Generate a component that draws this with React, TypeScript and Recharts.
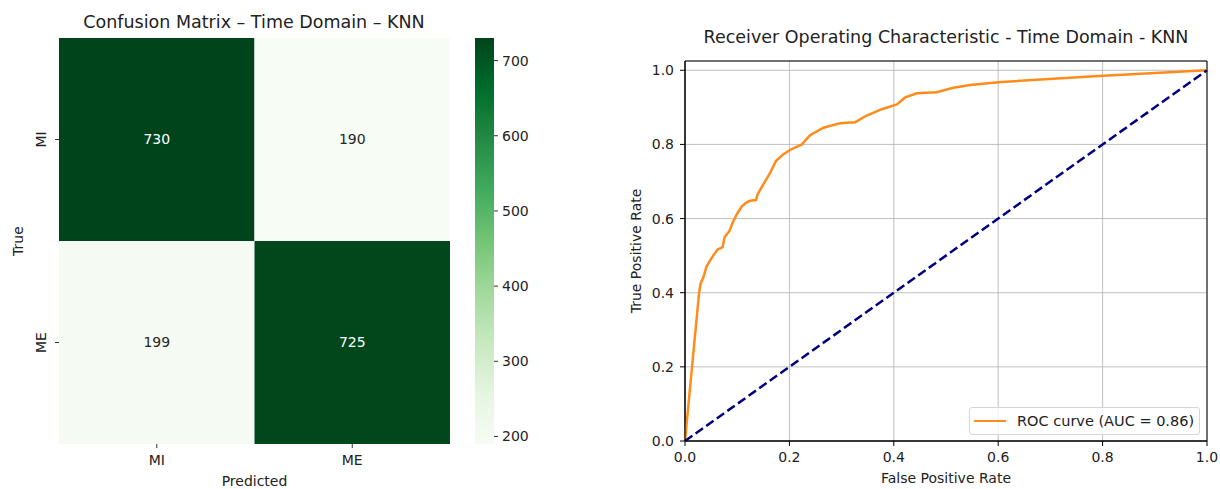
import React from "react";
import {
  ComposedChart,
  XAxis,
  YAxis,
  Line,
  ReferenceArea,
  CartesianGrid,
} from "recharts";

// confusion matrix
const classes = ["MI", "ME"];
const matrix = [
  [730, 190],
  [199, 725],
];
const cbTicks = [200, 300, 400, 500, 600, 700];
const vmin = 190;
const vmax = 730;

// ROC curve
const fpr = [
  0, 0.027, 0.03, 0.036, 0.041, 0.048, 0.055, 0.062, 0.072, 0.076, 0.085, 0.091,
  0.099, 0.109, 0.118, 0.125, 0.136, 0.139, 0.15, 0.163, 0.174, 0.188, 0.201,
  0.224, 0.239, 0.265, 0.297, 0.326, 0.348, 0.377, 0.406, 0.421, 0.444, 0.482,
  0.514, 0.546, 0.6, 0.801, 1.0,
];
const tpr = [
  0, 0.4, 0.425, 0.445, 0.47, 0.487, 0.502, 0.516, 0.523, 0.55, 0.566, 0.588,
  0.611, 0.633, 0.644, 0.648, 0.65, 0.665, 0.692, 0.723, 0.755, 0.773, 0.785,
  0.8, 0.824, 0.845, 0.857, 0.86, 0.878, 0.895, 0.908, 0.926, 0.938, 0.941,
  0.953, 0.96, 0.968, 0.985, 1.0,
];
const rocTicks = [0, 0.2, 0.4, 0.6, 0.8, 1.0];
const aucLabel = "ROC curve (AUC = 0.86)";

const GREENS = ["#f7fcf5", "#e5f5e0", "#c7e9c0", "#a1d99b", "#74c476", "#41ab5d", "#238b45", "#006d2c", "#00441b"];
const FONT = "'DejaVu Sans', sans-serif";
const TXT = "#222";
const FS = 14;

function hex(c: string) {
  return [1, 3, 5].map((i) => parseInt(c.slice(i, i + 2), 16));
}
function greens(v: number) {
  const t = Math.max(0, Math.min(1, (v - vmin) / (vmax - vmin))) * (GREENS.length - 1);
  const i = Math.min(Math.floor(t), GREENS.length - 2);
  const f = t - i;
  const a = hex(GREENS[i]);
  const b = hex(GREENS[i + 1]);
  const m = a.map((x, k) => Math.round(x + (b[k] - x) * f));
  return `rgb(${m.join(",")})`;
}

const cells = matrix.flatMap((row, r) =>
  row.map((v, c) => ({ x: c + 0.5, y: 1.5 - r, v, r, c }))
);
const rocData = fpr.map((x, i) => ({ fpr: x, tpr: tpr[i] }));
const chanceData = [
  { fpr: 0, chance: 0 },
  { fpr: 1, chance: 1 },
];

const RotTick = (props: any) => {
  const { x, y, payload } = props;
  return (
    <text
      x={x}
      y={y}
      transform={`rotate(-90 ${x} ${y})`}
      textAnchor="middle"
      fontSize={FS}
      fill={TXT}
      fontFamily={FONT}
    >
      {classes[1 - Math.floor(payload.value)]}
    </text>
  );
};

const titleStyle: React.CSSProperties = {
  position: "absolute",
  fontSize: 17.5,
  color: TXT,
  textAlign: "center",
  whiteSpace: "nowrap",
  transform: "translate(-50%, -50%)",
};

export default function App() {
  const tickFont = { fontSize: FS, fill: TXT, fontFamily: FONT };
  return (
    <div
      style={{
        position: "absolute",
        left: 0,
        top: 0,
        width: 1220,
        height: 489,
        background: "#fff",
        fontFamily: FONT,
        overflow: "hidden",
      }}
    >
      {/* heatmap */}
      <div style={{ position: "absolute", left: 0, top: 0 }}>
        <ComposedChart width={460} height={489} data={cells} margin={{ top: 38, right: 10, bottom: 15, left: 10 }}>
          <XAxis
            type="number"
            dataKey="x"
            domain={[0, 2]}
            ticks={[0.5, 1.5]}
            tickFormatter={(v) => classes[Math.floor(v)]}
            axisLine={false}
            tickSize={4}
            tickMargin={7}
            tick={tickFont}
            tickLine={{ stroke: "#333" }}
            height={30}
            label={{ value: "Predicted", position: "insideBottom", offset: -12, fontSize: FS, fill: TXT }}
          />
          <YAxis
            type="number"
            dataKey="y"
            domain={[0, 2]}
            ticks={[0.5, 1.5]}
            axisLine={false}
            tickSize={4}
            tickMargin={9}
            tick={<RotTick />}
            tickLine={{ stroke: "#333" }}
            width={49}
            label={{ value: "True", angle: -90, position: "insideLeft", offset: 8, fontSize: FS, fill: TXT, style: { textAnchor: "middle" } }}
          />
          {cells.map((d) => (
            <ReferenceArea
              key={`${d.r}-${d.c}`}
              x1={d.c}
              x2={d.c + 1}
              y1={1 - d.r}
              y2={2 - d.r}
              fill={greens(d.v)}
              fillOpacity={1}
              stroke="none"
              label={{
                value: String(d.v),
                position: "center",
                fill: (d.v - vmin) / (vmax - vmin) > 0.5 ? "#ffffff" : "#262626",
                fontSize: FS,
              }}
            />
          ))}
        </ComposedChart>
      </div>
      <div style={{ ...titleStyle, left: 254, top: 22 }}>Confusion Matrix – Time Domain – KNN</div>

      {/* colorbar */}
      <div style={{ position: "absolute", left: 440, top: 0 }}>
        <ComposedChart width={120} height={489} data={cbTicks.map((t) => ({ x: 0.5, v: t }))} margin={{ top: 38, right: 16, bottom: 45, left: 35 }}>
          <defs>
            <linearGradient id="cbGreens" x1="0" y1="1" x2="0" y2="0">
              {GREENS.map((c, i) => (
                <stop key={c} offset={i / (GREENS.length - 1)} stopColor={c} />
              ))}
            </linearGradient>
          </defs>
          <XAxis type="number" dataKey="x" domain={[0, 1]} hide />
          <YAxis
            type="number"
            dataKey="v"
            orientation="right"
            domain={[vmin, vmax]}
            ticks={cbTicks}
            axisLine={false}
            tickSize={4}
            tickMargin={4}
            tick={tickFont}
            tickLine={{ stroke: "#333" }}
            width={50}
          />
          <ReferenceArea x1={0} x2={1} y1={vmin} y2={vmax} fill="url(#cbGreens)" fillOpacity={1} stroke="none" />
        </ComposedChart>
      </div>

      {/* ROC */}
      <div style={{ position: "absolute", left: 610, top: 0 }}>
        <ComposedChart width={610} height={489} margin={{ top: 61, right: 13, bottom: 13, left: 30 }}>
          <CartesianGrid stroke="#b0b0b0" strokeWidth={0.8} />
          <XAxis
            type="number"
            dataKey="fpr"
            domain={[0, 1]}
            ticks={rocTicks}
            tickFormatter={(v) => v.toFixed(1)}
            tickSize={5}
            tickMargin={6}
            tick={tickFont}
            axisLine={{ stroke: "#000" }}
            tickLine={{ stroke: "#000" }}
            height={35}
            label={{ value: "False Positive Rate", position: "insideBottom", offset: -7, fontSize: FS, fill: TXT }}
          />
          <YAxis
            type="number"
            domain={[0, 1.025]}
            ticks={rocTicks}
            tickFormatter={(v) => v.toFixed(1)}
            tickSize={5}
            tickMargin={6}
            tick={tickFont}
            axisLine={{ stroke: "#000" }}
            tickLine={{ stroke: "#000" }}
            width={45}
            label={{ value: "True Positive Rate", angle: -90, position: "insideLeft", offset: -4, fontSize: FS, fill: TXT, style: { textAnchor: "middle" } }}
          />
          <Line
            data={rocData}
            dataKey="tpr"
            type="linear"
            stroke="#ff8c1a"
            strokeWidth={2.5}
            dot={false}
            isAnimationActive={false}
          />
          <Line
            data={chanceData}
            dataKey="chance"
            type="linear"
            stroke="#000080"
            strokeWidth={2.5}
            strokeDasharray="9 4"
            dot={false}
            isAnimationActive={false}
          />
          <ReferenceArea x1={0} x2={1} y1={0} y2={1.025} fill="none" fillOpacity={0} stroke="#000" strokeWidth={1} />
        </ComposedChart>
      </div>
      <div style={{ ...titleStyle, left: 946, top: 37 }}>Receiver Operating Characteristic - Time Domain - KNN</div>

      {/* legend */}
      <div
        style={{
          position: "absolute",
          left: 969,
          top: 407,
          width: 231,
          height: 28,
          boxSizing: "border-box",
          border: "1px solid #d6d6d6",
          borderRadius: 3,
          background: "rgba(255,255,255,0.8)",
          display: "flex",
          alignItems: "center",
          fontSize: 14.5,
          color: TXT,
        }}
      >
        <span style={{ display: "inline-block", width: 32, height: 2.5, background: "#ff8c1a", marginLeft: 4, marginRight: 11 }} />
        <span>{aucLabel}</span>
      </div>
    </div>
  );
}
